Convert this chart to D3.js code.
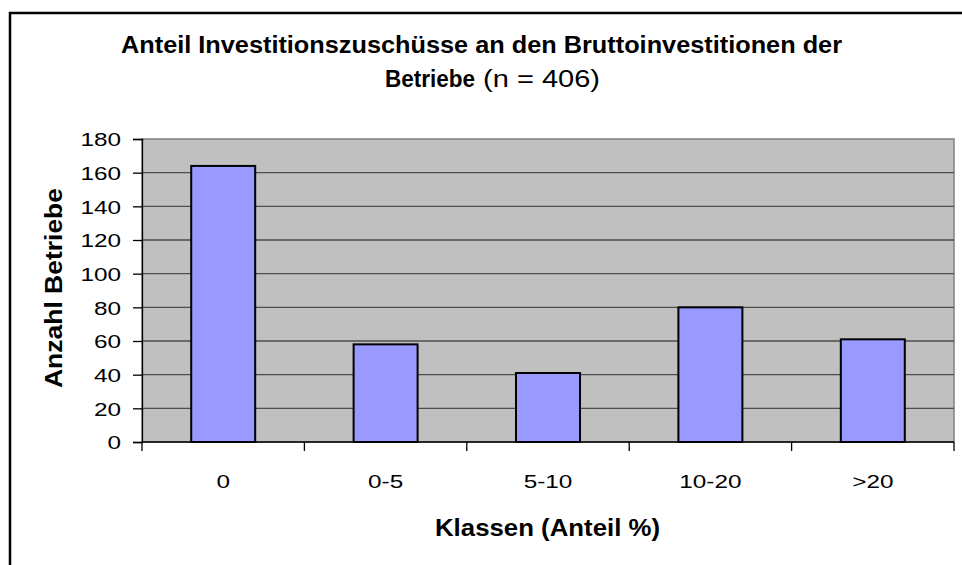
<!DOCTYPE html>
<html lang="de">
<head>
<meta charset="utf-8">
<script src="https://d3js.org/d3.v7.min.js"></script>
<style>
  body { margin: 0; background: #fff; }
  svg text { font-family: "Liberation Sans", Arial, sans-serif; fill: #000; }
</style>
</head>
<body>
<svg id="chart" width="962" height="565"></svg>
<script>
  // data
  var categories = ["0", "0-5", "5-10", "10-20", ">20"];
  var counts = [164, 58, 41, 80, 61];
  var yTicks = [0, 20, 40, 60, 80, 100, 120, 140, 160, 180];

  var svg = d3.select("#chart");
  var stretch = 1.28;   // labels in the original are drawn wide

  // outer chart border (runs off the right and bottom)
  svg.append("rect")
     .attr("x", 10).attr("y", 13)
     .attr("width", 1000).attr("height", 600)
     .attr("fill", "#fff")
     .attr("stroke", "#000")
     .attr("stroke-width", 2.5);

  var plot = {left: 142, right: 954, top: 139, bottom: 442};

  var x = d3.scaleBand()
      .domain(categories)
      .range([plot.left, plot.right])
      .paddingInner(0.606)
      .paddingOuter(0.303);

  var xCat = d3.scaleBand().domain(categories).range([plot.left, plot.right]);

  var y = d3.scaleLinear().domain([0, 180]).range([plot.bottom, plot.top]);

  // plot area background
  svg.append("rect")
     .attr("x", plot.left).attr("y", plot.top)
     .attr("width", plot.right - plot.left).attr("height", plot.bottom - plot.top)
     .attr("fill", "#c0c0c0")
     .attr("stroke", "#808080")
     .attr("stroke-width", 1.5);

  // gridlines
  svg.append("g")
     .selectAll("line")
     .data(yTicks.filter(function(d) { return d > 0 && d < 180; }))
     .enter().append("line")
     .attr("x1", plot.left).attr("x2", plot.right)
     .attr("y1", function(d) { return y(d); })
     .attr("y2", function(d) { return y(d); })
     .attr("stroke", "#4d4d4d")
     .attr("stroke-width", 1.3);

  // bars
  svg.append("g")
     .selectAll("rect")
     .data(counts)
     .enter().append("rect")
     .attr("x", function(d, i) { return x(categories[i]); })
     .attr("y", function(d) { return y(d); })
     .attr("width", x.bandwidth())
     .attr("height", function(d) { return y(0) - y(d); })
     .attr("fill", "#9999ff")
     .attr("stroke", "#000")
     .attr("stroke-width", 2);

  // y axis
  var yAxis = svg.append("g")
     .attr("transform", "translate(" + plot.left + ",0)")
     .call(d3.axisLeft(y).tickValues(yTicks).tickSize(9));
  yAxis.select(".domain").attr("stroke", "#000").attr("stroke-width", 1.3);
  yAxis.selectAll(".tick line").attr("stroke", "#000").attr("stroke-width", 1.3);
  yAxis.selectAll("text")
     .style("font-size", "19px")
     .attr("x", -21 / stretch)
     .attr("dy", "0.36em")
     .attr("transform", "scale(" + stretch + ",1)");

  // x axis: labels centred in each category, ticks at the boundaries
  var xAxis = svg.append("g")
     .attr("transform", "translate(0," + plot.bottom + ")")
     .call(d3.axisBottom(xCat).tickSize(0).tickPadding(33));
  xAxis.select(".domain").remove();
  xAxis.selectAll("text")
     .style("font-size", "19px")
     .attr("transform", "scale(" + stretch + ",1)");

  svg.append("line")
     .attr("x1", plot.left).attr("x2", plot.right)
     .attr("y1", plot.bottom).attr("y2", plot.bottom)
     .attr("stroke", "#000").attr("stroke-width", 1.5);

  var bounds = categories.map(function(c) { return xCat(c); }).concat([plot.right]);
  svg.append("g")
     .selectAll("line")
     .data(bounds)
     .enter().append("line")
     .attr("x1", function(d) { return d; }).attr("x2", function(d) { return d; })
     .attr("y1", plot.bottom).attr("y2", plot.bottom + 9)
     .attr("stroke", "#000").attr("stroke-width", 1.3);

  // titles
  svg.append("text")
     .attr("x", 121).attr("y", 53)
     .attr("textLength", 721).attr("lengthAdjust", "spacingAndGlyphs")
     .style("font-size", "23px").style("font-weight", "bold")
     .text("Anteil Investitionszuschüsse an den Bruttoinvestitionen der");

  var t2 = svg.append("text")
     .attr("x", 385).attr("y", 87)
     .style("font-size", "23px");
  t2.append("tspan").style("font-weight", "bold")
     .attr("textLength", 90).attr("lengthAdjust", "spacingAndGlyphs")
     .text("Betriebe");
  t2.append("tspan")
     .attr("textLength", 125).attr("lengthAdjust", "spacingAndGlyphs")
     .text(" (n = 406)");

  svg.append("text")
     .attr("x", 435).attr("y", 536)
     .attr("textLength", 225).attr("lengthAdjust", "spacingAndGlyphs")
     .style("font-size", "23px").style("font-weight", "bold")
     .text("Klassen (Anteil %)");

  svg.append("text")
     .attr("transform", "translate(62,388) rotate(-90)")
     .attr("textLength", 200).attr("lengthAdjust", "spacingAndGlyphs")
     .style("font-size", "23px").style("font-weight", "bold")
     .text("Anzahl Betriebe");
</script>
</body>
</html>
